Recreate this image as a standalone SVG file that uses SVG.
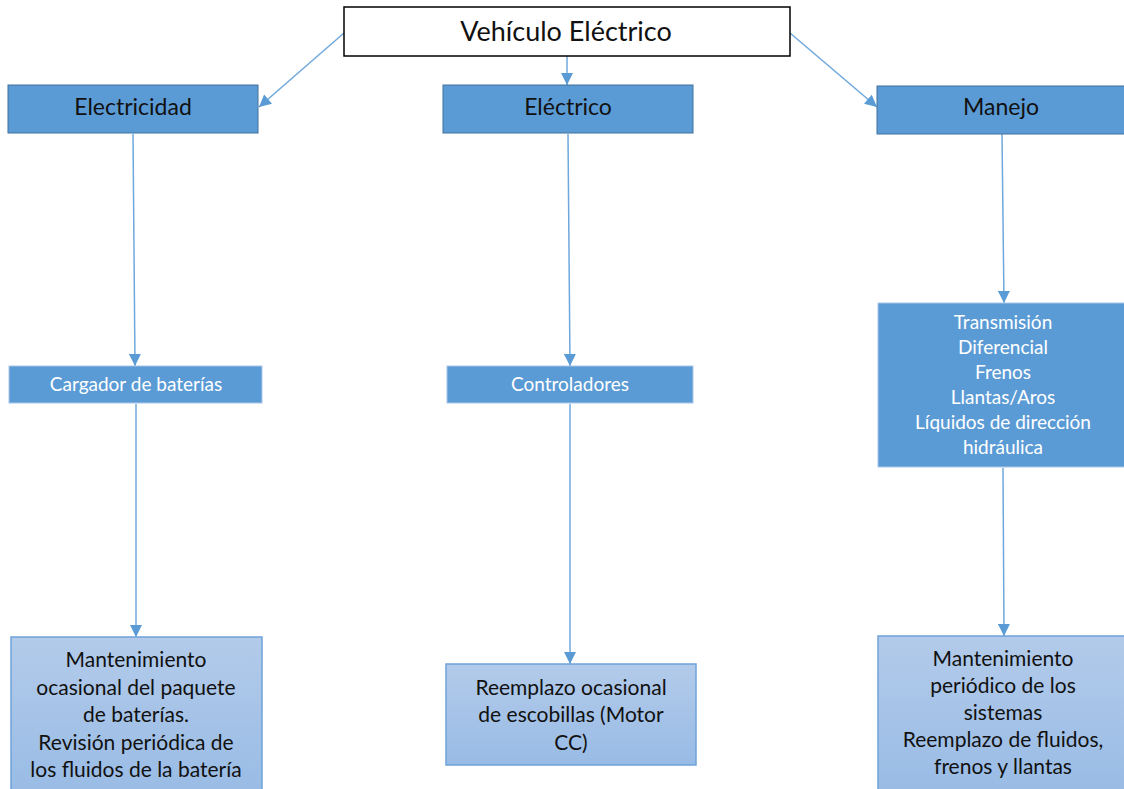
<svg xmlns="http://www.w3.org/2000/svg" width="1124" height="789" viewBox="0 0 1124 789">
<defs>
<linearGradient id="lg" x1="0" y1="0" x2="0" y2="1">
<stop offset="0" stop-color="#b3cbea"/>
<stop offset="1" stop-color="#98bbe5"/>
</linearGradient>
<marker id="ah2" viewBox="0 0 10 10" refX="10" refY="5" markerWidth="13" markerHeight="12" markerUnits="userSpaceOnUse" orient="auto">
<path d="M0,0 L10,5 L0,10 z" fill="#5b9bd5"/>
</marker>
</defs>
<style>
text{font-family:Lato,"Open Sans","Noto Sans",sans-serif;text-anchor:middle}
.top{fill:#fff;stroke:#000;stroke-width:1.5}
.mid{fill:#5b9bd5;stroke:#41719c;stroke-width:1}
.sub{fill:#5b9bd5;stroke:#a9c6e8;stroke-width:1}
.bot{fill:url(#lg);stroke:#6fa3d8;stroke-width:1.5}
.t1{font-size:27px;fill:#111}
.t2{font-size:23px;fill:#111}
.t3{font-size:19px;fill:#fff}
.t4{font-size:21px;fill:#111}
.c{stroke:#6fa8dc;stroke-width:1.5;fill:none;marker-end:url(#ah2)}
</style>
<g id="connectors">
<line class="c" x1="344" y1="33" x2="259" y2="107"/>
<line class="c" x1="567" y1="56" x2="567" y2="85"/>
<line class="c" x1="790" y1="33" x2="877" y2="107"/>
<line class="c" x1="133" y1="134" x2="135" y2="366"/>
<line class="c" x1="568" y1="134" x2="570" y2="366"/>
<line class="c" x1="1002" y1="134" x2="1004" y2="303"/>
<line class="c" x1="136" y1="404" x2="136" y2="637"/>
<line class="c" x1="570" y1="404" x2="570" y2="664"/>
<line class="c" x1="1003" y1="468" x2="1004" y2="636"/>
</g>
<g id="n-vehiculo">
<rect class="top" x="344" y="7" width="446" height="49"/>
<text class="t1" x="566" y="41">Vehículo Eléctrico</text>
</g>
<g id="n-electricidad">
<rect class="mid" x="8" y="85" width="250" height="48"/>
<text class="t2" x="133" y="115">Electricidad</text>
</g>
<g id="n-electrico">
<rect class="mid" x="443" y="85" width="250" height="48"/>
<text class="t2" x="568" y="115">Eléctrico</text>
</g>
<g id="n-manejo">
<rect class="mid" x="877" y="86" width="252" height="48"/>
<text class="t2" x="1001" y="115">Manejo</text>
</g>
<g id="n-cargador">
<rect class="sub" x="9" y="366" width="253" height="37"/>
<text class="t3" x="136" y="391">Cargador de baterías</text>
</g>
<g id="n-controladores">
<rect class="sub" x="447" y="366" width="246" height="37"/>
<text class="t3" x="570" y="391">Controladores</text>
</g>
<g id="n-sistemas">
<rect class="sub" x="878" y="303" width="250" height="164"/>
<text class="t3" x="1003" y="329">Transmisión</text>
<text class="t3" x="1003" y="354">Diferencial</text>
<text class="t3" x="1003" y="379">Frenos</text>
<text class="t3" x="1003" y="404">Llantas/Aros</text>
<text class="t3" x="1003" y="429">Líquidos de dirección</text>
<text class="t3" x="1003" y="454">hidráulica</text>
</g>
<g id="n-mant-bat">
<rect class="bot" x="11" y="637" width="251" height="160"/>
<text class="t4" x="136" y="667">Mantenimiento</text>
<text class="t4" x="136" y="695">ocasional del paquete</text>
<text class="t4" x="136" y="722">de baterías.</text>
<text class="t4" x="136" y="750">Revisión periódica de</text>
<text class="t4" x="136" y="777">los fluidos de la batería</text>
</g>
<g id="n-escobillas">
<rect class="bot" x="446" y="664" width="250" height="101"/>
<text class="t4" x="571" y="695">Reemplazo ocasional</text>
<text class="t4" x="571" y="722">de escobillas (Motor</text>
<text class="t4" x="571" y="750">CC)</text>
</g>
<g id="n-mant-sis">
<rect class="bot" x="878" y="636" width="252" height="160"/>
<text class="t4" x="1003" y="666">Mantenimiento</text>
<text class="t4" x="1003" y="693">periódico de los</text>
<text class="t4" x="1003" y="720">sistemas</text>
<text class="t4" x="1003" y="747">Reemplazo de fluidos,</text>
<text class="t4" x="1003" y="774">frenos y llantas</text>
</g>
</svg>
